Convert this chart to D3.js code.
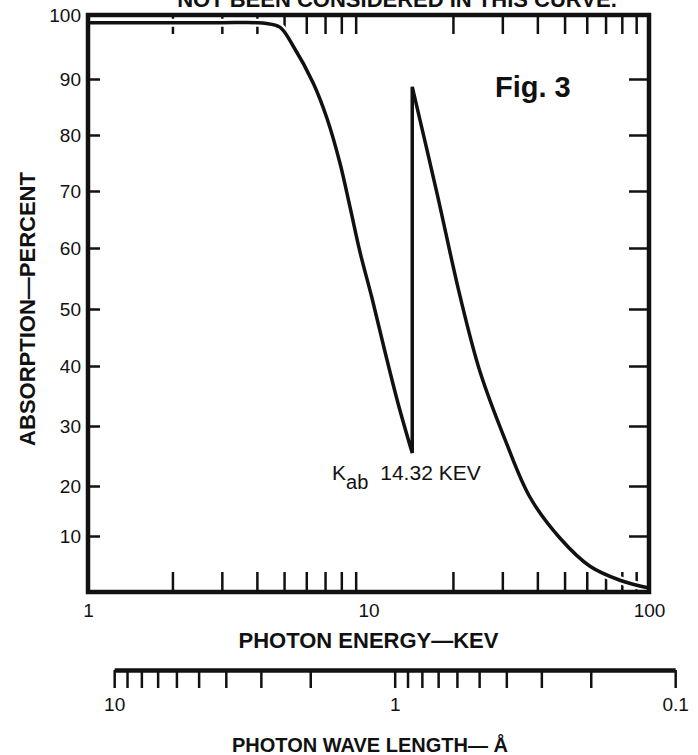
<!DOCTYPE html>
<html>
<head>
<meta charset="utf-8">
<script src="https://cdn.jsdelivr.net/npm/d3@7"></script>
<style>
  body { margin: 0; background: #fff; }
  text { font-family: "Liberation Sans", Arial, sans-serif; fill: #111; }
</style>
</head>
<body>
<script>
// absorption curve (energy in keV, absorption in %)
var energyLo = [1, 2, 3, 4, 4.28, 4.83, 5.38, 6.35, 7.11, 7.91, 8.59, 9.33, 10.29, 11.45, 12.74, 14.32];
var absLo    = [98.8, 98.8, 98.8, 98.8, 98.7, 98.1, 95.2, 89.3, 83.0, 75.0, 67.2, 59.3, 51.8, 42.5, 33.8, 25.5];
var energyHi = [14.32, 17.55, 21.2, 25.0, 30.7, 37.6, 48.2, 61.6, 78.8, 100];
var absHi    = [88.6, 69.6, 52.1, 39.0, 27.7, 17.8, 9.6, 4.6, 2.1, 0.7];

var energyMinor = [2, 3, 4, 5, 6, 7, 8, 9, 20, 30, 40, 50, 60, 70, 80, 90];
var energyLabels = [1, 10, 100];
var absTicks = [10, 20, 30, 40, 50, 60, 70, 80, 90, 100];
var lamTicks = [10, 9, 8, 7, 6, 5, 4, 3, 2, 1, 0.9, 0.8, 0.7, 0.6, 0.5, 0.4, 0.3, 0.2, 0.1];
var lamLabels = [10, 1, 0.1];
var hc = 12.398; // keV * angstrom

var W = 698, H = 755;
var mLeft = 88, mRight = 649, mTop = 15, mBottom = 592;

var x = d3.scaleLog().domain([1, 100]).range([mLeft, mRight]);
// the printed y grid is slightly uneven, so the scale follows the printed ticks
var y = d3.scaleLinear()
    .domain([0, 10, 20, 30, 40, 50, 60, 70, 80, 90, 100])
    .range([592, 536, 486, 426, 366, 309, 248, 191, 135, 79, 15]);
var lam = d3.scaleLog().domain([10, 0.1]).range([x(hc / 10), x(hc / 0.1)]);

var svg = d3.select("body").append("svg")
    .attr("width", W)
    .attr("height", H);

svg.append("rect").attr("width", W).attr("height", H).attr("fill", "#fff");

// note at the very top, cut off by the page edge as in the print
svg.append("text")
    .attr("x", 397).attr("y", 7)
    .attr("text-anchor", "middle")
    .attr("font-size", 22).attr("font-weight", "bold")
    .text("NOT BEEN CONSIDERED IN THIS CURVE.");

function styleAxis(g, tw) {
    g.select(".domain").remove();
    g.selectAll(".tick line").attr("stroke", "#111").attr("stroke-width", tw);
    g.selectAll(".tick text").attr("font-size", 19).attr("fill", "#111")
        .attr("font-family", "Liberation Sans, Arial, sans-serif");
}

// inward ticks
svg.append("g").attr("transform", "translate(0," + mBottom + ")")
    .call(d3.axisBottom(x).tickValues(energyMinor).tickSize(-20).tickFormat(""))
    .call(styleAxis, 2.5);
svg.append("g").attr("transform", "translate(0," + mTop + ")")
    .call(d3.axisTop(x).tickValues(energyMinor).tickSize(-19).tickFormat(""))
    .call(styleAxis, 2.5);
svg.append("g").attr("transform", "translate(" + mLeft + ",0)")
    .call(d3.axisLeft(y).tickValues(absTicks).tickSize(-12).tickPadding(7))
    .call(styleAxis, 2.5);
svg.append("g").attr("transform", "translate(" + mRight + ",0)")
    .call(d3.axisRight(y).tickValues(absTicks.slice(0, 9)).tickSize(-20).tickFormat(""))
    .call(styleAxis, 2.5);
svg.append("g").attr("transform", "translate(0," + mBottom + ")")
    .call(d3.axisBottom(x).tickValues(energyLabels).tickSize(0).tickPadding(12).tickFormat(d3.format("d")))
    .call(styleAxis, 0);

// the curve: lower branch, jump at the K edge, upper branch
var lineGen = d3.line()
    .x((d)=> x(d[0]))
    .y((d)=> y(d[1]))
    .curve(d3.curveCatmullRom.alpha(0.5));
var lo = lineGen(d3.zip(energyLo, absLo));
var hi = lineGen(d3.zip(energyHi, absHi));
var curvePath = lo + "L" + hi.slice(1);

svg.append("path").attr("d", curvePath)
    .attr("fill", "none").attr("stroke", "#fff").attr("stroke-width", 8);
svg.append("path").attr("d", curvePath)
    .attr("fill", "none").attr("stroke", "#111").attr("stroke-width", 3.5)
    .attr("stroke-linejoin", "miter");

// frame
svg.append("rect")
    .attr("x", mLeft).attr("y", mTop)
    .attr("width", mRight - mLeft).attr("height", mBottom - mTop)
    .attr("fill", "none").attr("stroke", "#111").attr("stroke-width", 4.5);

svg.append("text")
    .attr("x", 495).attr("y", 97)
    .attr("font-size", 29).attr("font-weight", "bold")
    .text("Fig. 3");

var kab = svg.append("text").attr("x", 332).attr("y", 480).attr("font-size", 21);
kab.append("tspan").text("K");
kab.append("tspan").attr("dy", 9).attr("font-size", 20).text("ab");
kab.append("tspan").attr("dy", -9).attr("dx", 12).text("14.32 KEV");

svg.append("text")
    .attr("x", (mLeft + mRight) / 2).attr("y", 648)
    .attr("text-anchor", "middle")
    .attr("font-size", 22).attr("font-weight", "bold")
    .text("PHOTON ENERGY\u2014KEV");

svg.append("text")
    .attr("transform", "translate(35," + 309 + ") rotate(-90)")
    .attr("text-anchor", "middle")
    .attr("font-size", 22).attr("font-weight", "bold")
    .text("ABSORPTION\u2014PERCENT");

// wavelength scale under the chart
var lamAxis = svg.append("g").attr("transform", "translate(0,670)")
    .call(d3.axisBottom(lam).tickValues(lamTicks).tickSize(18).tickSizeOuter(0).tickPadding(10)
        .tickFormat((d)=> lamLabels.indexOf(d) >= 0 ? String(d) : ""));
lamAxis.select(".domain").attr("stroke", "#111").attr("stroke-width", 4.5);
lamAxis.selectAll(".tick line").attr("stroke", "#111").attr("stroke-width", 2.5);
lamAxis.selectAll(".tick text").attr("font-size", 19).attr("fill", "#111")
    .attr("font-family", "Liberation Sans, Arial, sans-serif");

svg.append("text")
    .attr("x", 370).attr("y", 752)
    .attr("text-anchor", "middle")
    .attr("font-size", 20).attr("font-weight", "bold")
    .text("PHOTON WAVE LENGTH\u2014 \u00c5");
</script>
</body>
</html>
